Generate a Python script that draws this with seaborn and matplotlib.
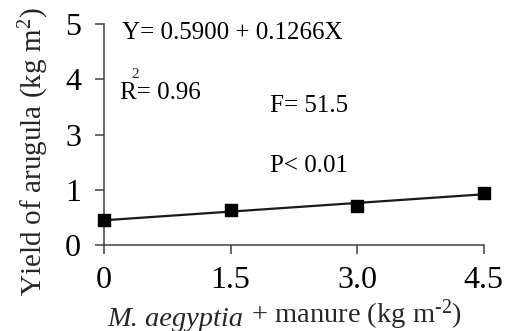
import matplotlib
matplotlib.use("Agg")
import matplotlib.pyplot as plt
import seaborn as sns
import pandas as pd

# values
manure = [0, 1.5, 3.0, 4.5]
yield_kg = [0.45, 0.63, 0.70, 0.95]
xtick_vals = [0, 1.5, 3.0, 4.5]
xtick_labels = ["0", "1.5", "3.0", "4.5"]
ytick_vals = [0, 1, 2, 3, 4]
ytick_labels = ["0", "1", "3", "4", "5"]

sns.set_style("ticks")
plt.rcParams["font.family"] = ["Liberation Serif", "DejaVu Serif"]
plt.rcParams["mathtext.fontset"] = "custom"
plt.rcParams["mathtext.rm"] = "Liberation Serif"
plt.rcParams["mathtext.it"] = "Liberation Serif:italic"

df = pd.DataFrame({"manure": manure, "yield": yield_kg})

fig = plt.figure(figsize=(5.05, 3.31), dpi=100)
ax = fig.add_axes([0.206, 0.26, 0.752, 0.667])

sns.regplot(
    x="manure", y="yield", data=df, ax=ax, ci=None, marker="s",
    scatter_kws={"s": 85, "color": "black", "alpha": 1, "clip_on": False, "zorder": 5},
    line_kws={"color": "#1a1a1a", "linewidth": 1.6},
    truncate=True,
)

ax.set_xlim(0, 4.5)
ax.set_ylim(0, 4)
ax.set_xticks(xtick_vals)
ax.set_xticklabels(xtick_labels)
ax.set_yticks(ytick_vals)
ax.set_yticklabels(ytick_labels)
ax.tick_params(axis="both", direction="out", length=6.5, width=1.1,
               color="#404040", labelsize=23, labelcolor="black")
ax.tick_params(axis="x", pad=9)
ax.tick_params(axis="y", pad=10)
for side in ["top", "right"]:
    ax.spines[side].set_visible(False)
for side in ["left", "bottom"]:
    ax.spines[side].set_color("#404040")
    ax.spines[side].set_linewidth(1.1)

ax.set_ylabel(r"Yield of arugula (kg m$^{2}$)", fontsize=21)
ax.yaxis.set_label_coords(-0.14, 0.42)
ax.set_xlabel("")

# x label built from an italic part and a plain part
xl = ax.text(0.01, -0.365, "M. aegyptia", fontsize=20.5, style="italic",
             transform=ax.transAxes, ha="left", va="baseline")
ax.annotate(r" + manure (kg m$^{\text{-2}}$)", xy=(1, 0), xycoords=xl,
            fontsize=20.5, ha="left", va="bottom", annotation_clip=False)

txt = dict(fontsize=18, va="baseline", ha="left", color="black")
ax.text(0.21, 3.73, "Y= 0.5900 + 0.1266X", **txt)
ax.text(0.19, 2.64, "R= 0.96", **txt)
ax.text(0.32, 3.02, "2", fontsize=11, va="baseline", ha="left")
ax.text(1.97, 2.41, "F= 51.5", **txt)
ax.text(1.97, 1.33, "P< 0.01", **txt)

fig.savefig("out.png", dpi=100)
